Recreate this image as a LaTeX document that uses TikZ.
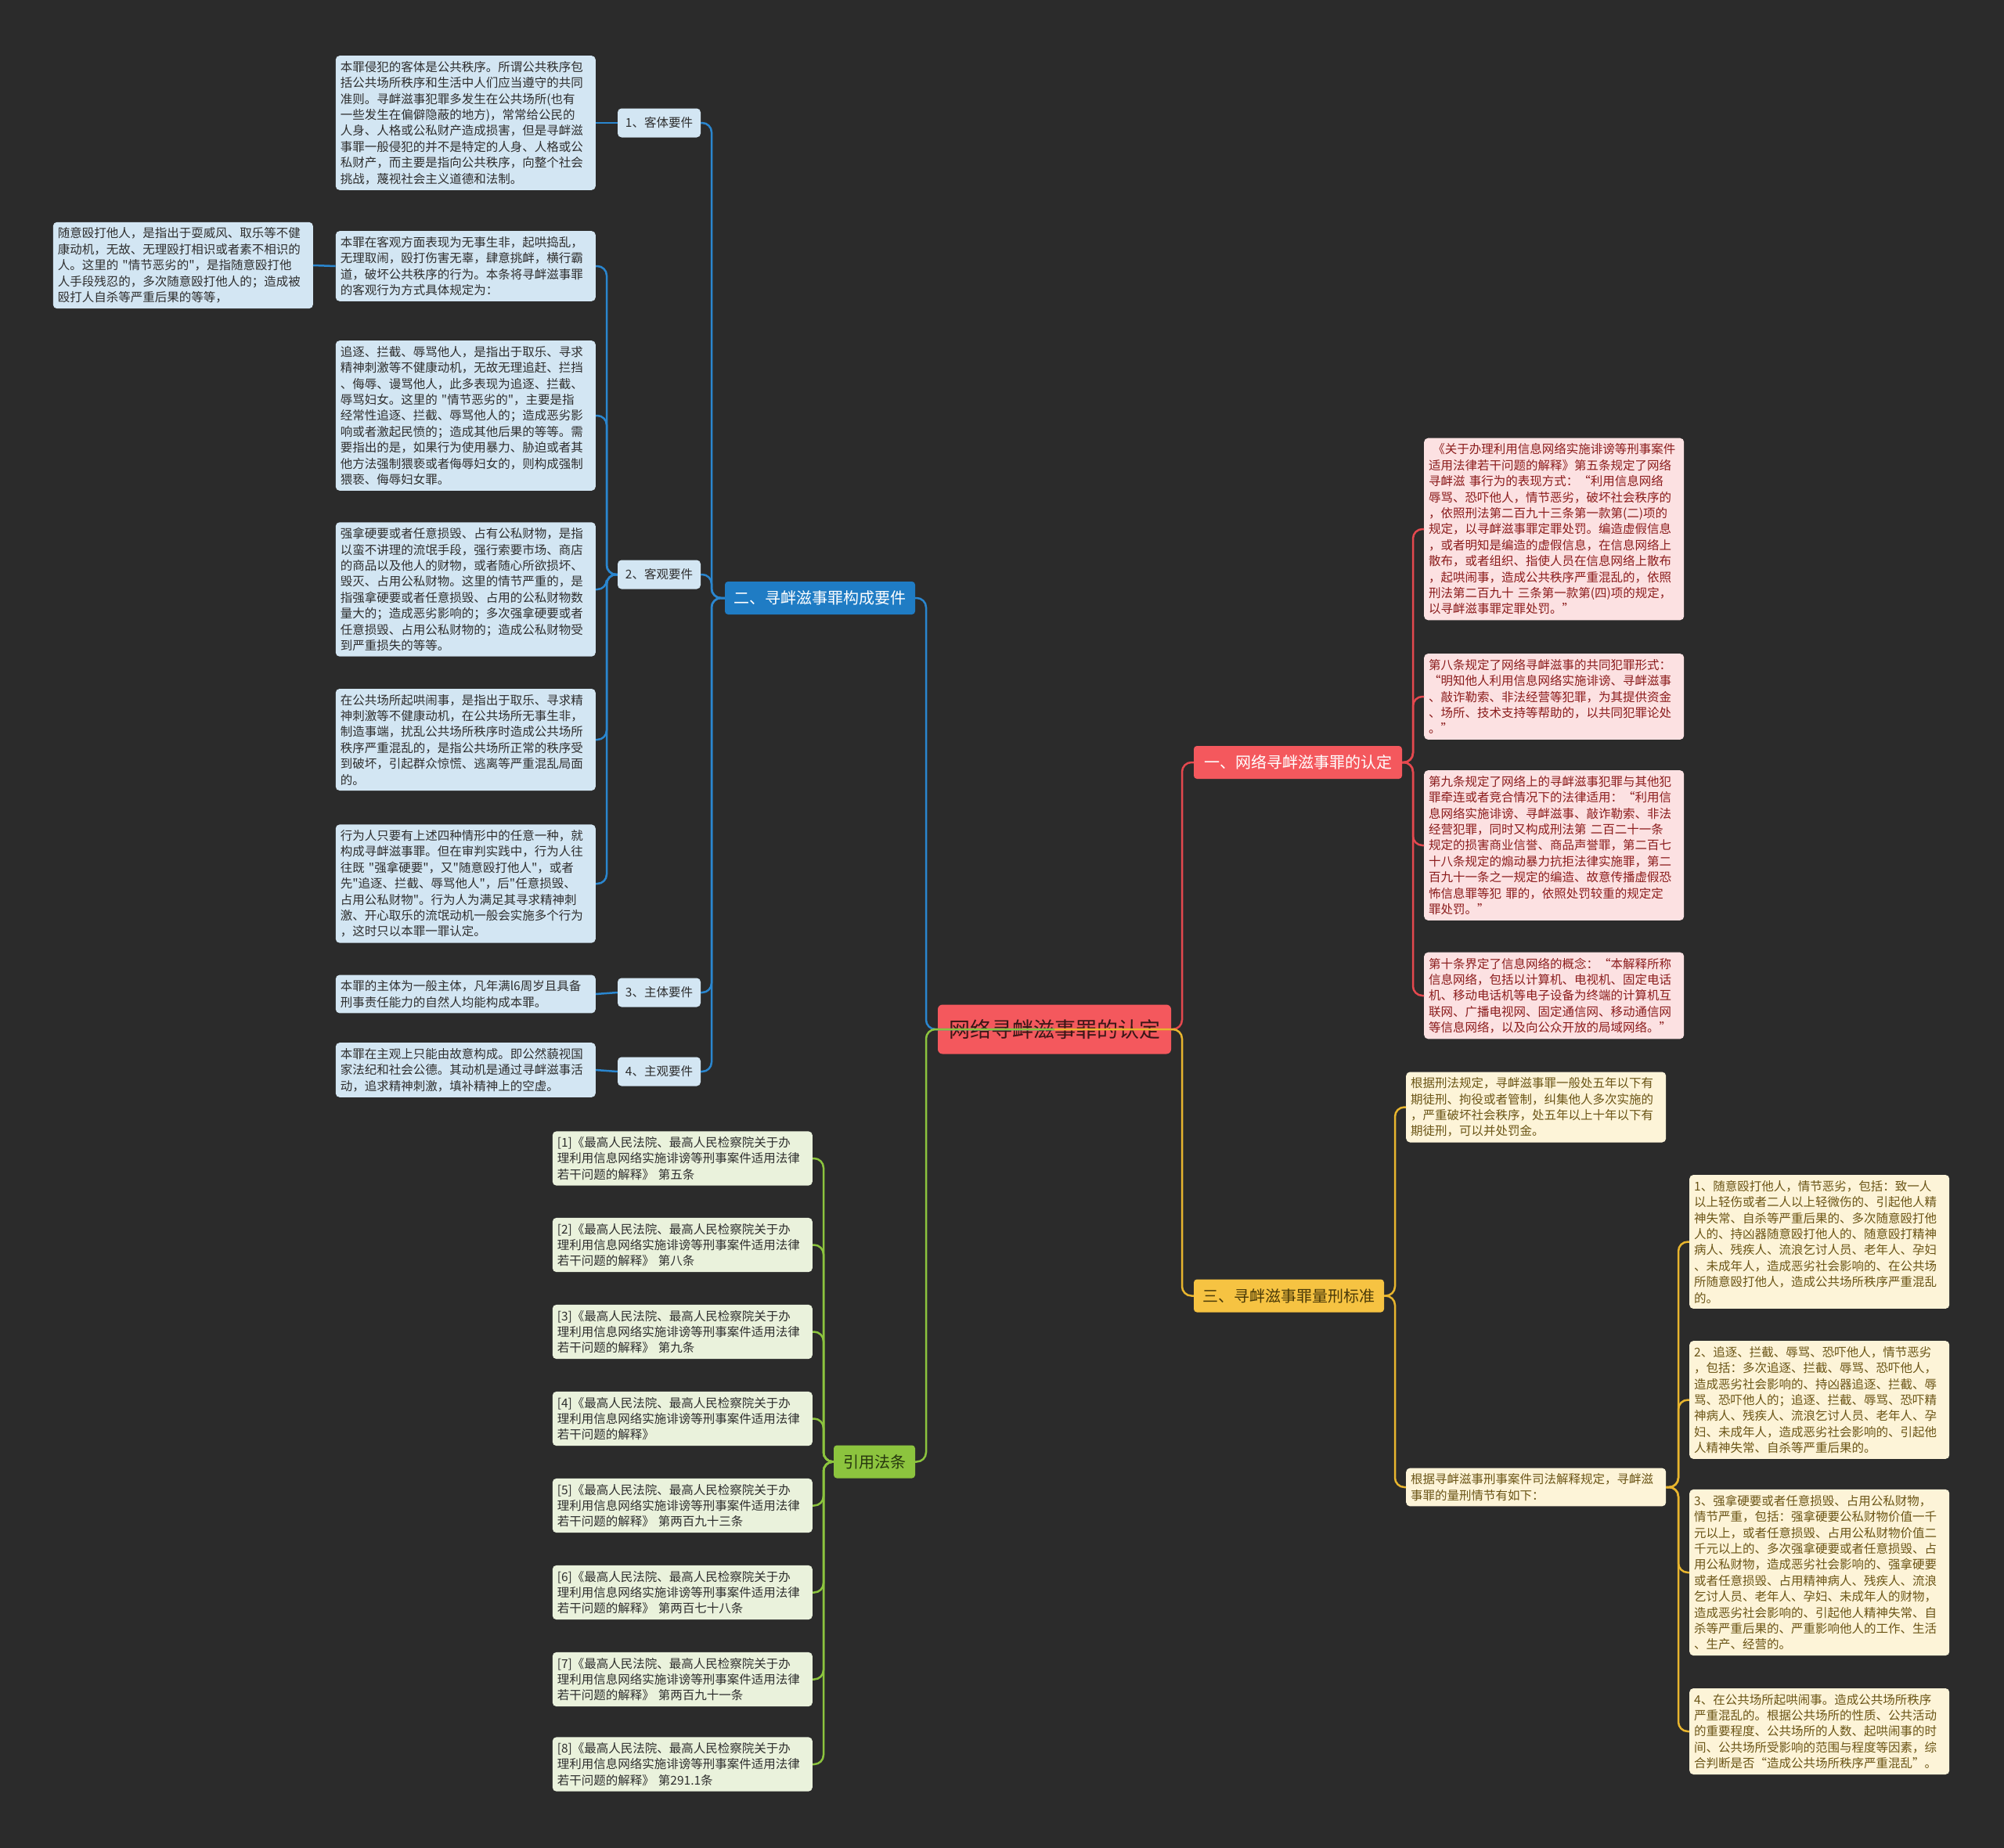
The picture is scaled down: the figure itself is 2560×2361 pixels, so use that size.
\documentclass[tikz,border=0pt]{standalone}
\usepackage{fontspec}
\newfontfamily\cjk{Noto Sans CJK SC}
\definecolor{bg}{HTML}{2B2B2B}
\definecolor{bfill}{HTML}{D3E6F3}
\definecolor{bmain}{HTML}{1F7CC4}
\definecolor{bline}{HTML}{2A86CF}
\definecolor{rfill}{HTML}{FCE1E2}
\definecolor{rmain}{HTML}{F4585D}
\definecolor{rline}{HTML}{E4484E}
\definecolor{rtext}{HTML}{8B1C1C}
\definecolor{ctext}{HTML}{3A1616}
\definecolor{yfill}{HTML}{FDF4D8}
\definecolor{ymain}{HTML}{F6C342}
\definecolor{yline}{HTML}{E8B52E}
\definecolor{ytext}{HTML}{6B5516}
\definecolor{ymtext}{HTML}{4A3A08}
\definecolor{gfill}{HTML}{EAF2DC}
\definecolor{gmain}{HTML}{8CC43E}
\definecolor{gline}{HTML}{8CC43E}
\definecolor{gmtext}{HTML}{26360E}
\definecolor{dtext}{HTML}{2E2E2E}
\begin{document}
\begin{tikzpicture}[x=1pt,y=-1pt,
  leaf/.style={rounded corners=5pt, align=left, text width=320pt, inner xsep=6pt, inner ysep=7pt,
    font=\cjk\fontsize{15.5}{20.4}\selectfont},
  bleaf/.style={leaf, fill=bfill, text=dtext},
  rleaf/.style={leaf, fill=rfill, text=rtext},
  yleaf/.style={leaf, fill=yfill, text=ytext},
  gleaf/.style={leaf, fill=gfill, text=dtext},
  klabel/.style={rounded corners=5pt, fill=bfill, text=dtext, minimum width=106pt, minimum height=37pt,
    inner sep=0pt, font=\cjk\fontsize{15.5}{18}\selectfont},
  branch/.style={rounded corners=4pt, minimum height=42pt, inner sep=0pt, font=\cjk\fontsize{20}{24}\selectfont},
  con/.style={line width=2.5pt, rounded corners=12pt},
]
\useasboundingbox (0,0) rectangle (2560,2361);
\fill[bg] (0,0) rectangle (2560,2361);

% bus coordinates
\coordinate (cL) at (1183,0);
\coordinate (cR) at (1510,0);
\coordinate (bB) at (909,0);
\coordinate (bK) at (775,0);
\coordinate (rB) at (1805,0);
\coordinate (yB) at (1782,0);
\coordinate (yB2) at (2144,0);
\coordinate (gB) at (1052,0);

% ---------- center ----------
\node[rounded corners=6pt, fill=rmain, text=ctext, minimum width=298pt, minimum height=63pt, inner sep=0pt,
  font=\cjk\fontsize{27}{30}\selectfont] (C) at (1347,1315) {网络寻衅滋事罪的认定};

% ---------- main branches ----------
\node[branch, fill=bmain, text=white, minimum width=243pt] (B2) at (1047.5,764) {二、寻衅滋事罪构成要件};
\node[branch, fill=rmain, text=white, minimum width=266pt] (B1) at (1658,974) {一、网络寻衅滋事罪的认定};
\node[branch, fill=ymain, text=ymtext, minimum width=243pt] (B3) at (1646.5,1655.5) {三、寻衅滋事罪量刑标准};
\node[branch, fill=gmain, text=gmtext, minimum width=104pt] (B4) at (1117,1867.5) {引用法条};

% ---------- blue labels ----------
\node[klabel] (K1) at (842,157) {1、客体要件};
\node[klabel] (K2) at (842,734) {2、客观要件};
\node[klabel] (K3) at (842,1268) {3、主体要件};
\node[klabel] (K4) at (842,1369) {4、主观要件};

% ---------- blue leaves ----------
\node[bleaf, anchor=east] (L1) at (761,157) {本罪侵犯的客体是公共秩序。所谓公共秩序包\\括公共场所秩序和生活中人们应当遵守的共同\\准则。寻衅滋事犯罪多发生在公共场所(也有\\一些发生在偏僻隐蔽的地方)，常常给公民的\\人身、人格或公私财产造成损害，但是寻衅滋\\事罪一般侵犯的并不是特定的人身、人格或公\\私财产，而主要是指向公共秩序，向整个社会\\挑战，蔑视社会主义道德和法制。};
\node[bleaf, anchor=east] (L2) at (761,340) {本罪在客观方面表现为无事生非，起哄捣乱，\\无理取闹，殴打伤害无辜，肆意挑衅，横行霸\\道，破坏公共秩序的行为。本条将寻衅滋事罪\\的客观行为方式具体规定为：};
\node[bleaf, anchor=east] (LL) at (400,339) {随意殴打他人，是指出于耍威风、取乐等不健\\康动机，无故、无理殴打相识或者素不相识的\\人。这里的 "情节恶劣的"，是指随意殴打他\\人手段残忍的，多次随意殴打他人的；造成被\\殴打人自杀等严重后果的等等，};
\node[bleaf, anchor=east] (L3) at (761,531) {追逐、拦截、辱骂他人，是指出于取乐、寻求\\精神刺激等不健康动机，无故无理追赶、拦挡\\、侮辱、谩骂他人，此多表现为追逐、拦截、\\辱骂妇女。这里的 "情节恶劣的"，主要是指\\经常性追逐、拦截、辱骂他人的；造成恶劣影\\响或者激起民愤的；造成其他后果的等等。需\\要指出的是，如果行为使用暴力、胁迫或者其\\他方法强制猥亵或者侮辱妇女的，则构成强制\\猥亵、侮辱妇女罪。};
\node[bleaf, anchor=east] (L4) at (761,753) {强拿硬要或者任意损毁、占有公私财物，是指\\以蛮不讲理的流氓手段，强行索要市场、商店\\的商品以及他人的财物，或者随心所欲损坏、\\毁灭、占用公私财物。这里的情节严重的，是\\指强拿硬要或者任意损毁、占用的公私财物数\\量大的；造成恶劣影响的；多次强拿硬要或者\\任意损毁、占用公私财物的；造成公私财物受\\到严重损失的等等。};
\node[bleaf, anchor=east] (L5) at (761,945) {在公共场所起哄闹事，是指出于取乐、寻求精\\神刺激等不健康动机，在公共场所无事生非，\\制造事端，扰乱公共场所秩序时造成公共场所\\秩序严重混乱的，是指公共场所正常的秩序受\\到破坏，引起群众惊慌、逃离等严重混乱局面\\的。};
\node[bleaf, anchor=east] (L6) at (761,1129) {行为人只要有上述四种情形中的任意一种，就\\构成寻衅滋事罪。但在审判实践中，行为人往\\往既 "强拿硬要"，又"随意殴打他人"，或者\\先"追逐、拦截、辱骂他人"，后"任意损毁、\\占用公私财物"。行为人为满足其寻求精神刺\\激、开心取乐的流氓动机一般会实施多个行为\\，这时只以本罪一罪认定。};
\node[bleaf, anchor=east] (L7) at (761,1270) {本罪的主体为一般主体，凡年满l6周岁且具备\\刑事责任能力的自然人均能构成本罪。};
\node[bleaf, anchor=east] (L8) at (761,1367) {本罪在主观上只能由故意构成。即公然藐视国\\家法纪和社会公德。其动机是通过寻衅滋事活\\动，追求精神刺激，填补精神上的空虚。};

% ---------- red leaves ----------
\node[rleaf, anchor=west] (R1) at (1819,676) {\ 《关于办理利用信息网络实施诽谤等刑事案件\\适用法律若干问题的解释》第五条规定了网络\\寻衅滋 事行为的表现方式：“利用信息网络\\辱骂、恐吓他人，情节恶劣，破坏社会秩序的\\，依照刑法第二百九十三条第一款第(二)项的\\规定，以寻衅滋事罪定罪处罚。编造虚假信息\\，或者明知是编造的虚假信息，在信息网络上\\散布，或者组织、指使人员在信息网络上散布\\，起哄闹事，造成公共秩序严重混乱的，依照\\刑法第二百九十~三条第一款第(四)项的规定，\\以寻衅滋事罪定罪处罚。”};
\node[rleaf, anchor=west] (R2) at (1819,890) {第八条规定了网络寻衅滋事的共同犯罪形式：\\“明知他人利用信息网络实施诽谤、寻衅滋事\\、敲诈勒索、非法经营等犯罪，为其提供资金\\、场所、技术支持等帮助的，以共同犯罪论处\\。”};
\node[rleaf, anchor=west] (R3) at (1819,1080) {第九条规定了网络上的寻衅滋事犯罪与其他犯\\罪牵连或者竞合情况下的法律适用：“利用信\\息网络实施诽谤、寻衅滋事、敲诈勒索、非法\\经营犯罪，同时又构成刑法第~二百二十一条\\规定的损害商业信誉、商品声誉罪，第二百七\\十八条规定的煽动暴力抗拒法律实施罪，第二\\百九十一条之一规定的编造、故意传播虚假恐\\怖信息罪等犯~罪的，依照处罚较重的规定定\\罪处罚。”};
\node[rleaf, anchor=west] (R4) at (1819,1272) {第十条界定了信息网络的概念：“本解释所称\\信息网络，包括以计算机、电视机、固定电话\\机、移动电话机等电子设备为终端的计算机互\\联网、广播电视网、固定通信网、移动通信网\\等信息网络，以及向公众开放的局域网络。”};

% ---------- yellow leaves ----------
\node[yleaf, anchor=west] (Y0) at (1796,1414.5) {根据刑法规定，寻衅滋事罪一般处五年以下有\\期徒刑、拘役或者管制，纠集他人多次实施的\\，严重破坏社会秩序，处五年以上十年以下有\\期徒刑，可以并处罚金。};
\node[yleaf, anchor=west] (Y1) at (1796,1900) {根据寻衅滋事刑事案件司法解释规定，寻衅滋\\事罪的量刑情节有如下：};
\node[yleaf, anchor=west] (Ya) at (2158,1586.5) {1、随意殴打他人，情节恶劣，包括：致一人\\以上轻伤或者二人以上轻微伤的、引起他人精\\神失常、自杀等严重后果的、多次随意殴打他\\人的、持凶器随意殴打他人的、随意殴打精神\\病人、残疾人、流浪乞讨人员、老年人、孕妇\\、未成年人，造成恶劣社会影响的、在公共场\\所随意殴打他人，造成公共场所秩序严重混乱\\的。};
\node[yleaf, anchor=west] (Yb) at (2158,1788.5) {2、追逐、拦截、辱骂、恐吓他人，情节恶劣\\，包括：多次追逐、拦截、辱骂、恐吓他人，\\造成恶劣社会影响的、持凶器追逐、拦截、辱\\骂、恐吓他人的；追逐、拦截、辱骂、恐吓精\\神病人、残疾人、流浪乞讨人员、老年人、孕\\妇、未成年人，造成恶劣社会影响的、引起他\\人精神失常、自杀等严重后果的。};
\node[yleaf, anchor=west] (Yc) at (2158,2009) {3、强拿硬要或者任意损毁、占用公私财物，\\情节严重，包括：强拿硬要公私财物价值一千\\元以上，或者任意损毁、占用公私财物价值二\\千元以上的、多次强拿硬要或者任意损毁、占\\用公私财物，造成恶劣社会影响的、强拿硬要\\或者任意损毁、占用精神病人、残疾人、流浪\\乞讨人员、老年人、孕妇、未成年人的财物，\\造成恶劣社会影响的、引起他人精神失常、自\\杀等严重后果的、严重影响他人的工作、生活\\、生产、经营的。};
\node[yleaf, anchor=west] (Yd) at (2158,2212) {4、在公共场所起哄闹事。造成公共场所秩序\\严重混乱的。根据公共场所的性质、公共活动\\的重要程度、公共场所的人数、起哄闹事的时\\间、公共场所受影响的范围与程度等因素，综\\合判断是否“造成公共场所秩序严重混乱”。};

% ---------- green leaves ----------
\node[gleaf, anchor=east] (G1) at (1038,1480) {[1]《最高人民法院、最高人民检察院关于办\\理利用信息网络实施诽谤等刑事案件适用法律\\若干问题的解释》 第五条};
\node[gleaf, anchor=east] (G2) at (1038,1590.5) {[2]《最高人民法院、最高人民检察院关于办\\理利用信息网络实施诽谤等刑事案件适用法律\\若干问题的解释》 第八条};
\node[gleaf, anchor=east] (G3) at (1038,1701.5) {[3]《最高人民法院、最高人民检察院关于办\\理利用信息网络实施诽谤等刑事案件适用法律\\若干问题的解释》 第九条};
\node[gleaf, anchor=east] (G4) at (1038,1812.5) {[4]《最高人民法院、最高人民检察院关于办\\理利用信息网络实施诽谤等刑事案件适用法律\\若干问题的解释》};
\node[gleaf, anchor=east] (G5) at (1038,1923.5) {[5]《最高人民法院、最高人民检察院关于办\\理利用信息网络实施诽谤等刑事案件适用法律\\若干问题的解释》 第两百九十三条};
\node[gleaf, anchor=east] (G6) at (1038,2034.5) {[6]《最高人民法院、最高人民检察院关于办\\理利用信息网络实施诽谤等刑事案件适用法律\\若干问题的解释》 第两百七十八条};
\node[gleaf, anchor=east] (G7) at (1038,2145.5) {[7]《最高人民法院、最高人民检察院关于办\\理利用信息网络实施诽谤等刑事案件适用法律\\若干问题的解释》 第两百九十一条};
\node[gleaf, anchor=east] (G8) at (1038,2254) {[8]《最高人民法院、最高人民检察院关于办\\理利用信息网络实施诽谤等刑事案件适用法律\\若干问题的解释》 第291.1条};

% ---------- connectors ----------
% blue
\draw[con, bline] (B2.west) -- (bB |- B2.west) |- (K1.east);
\draw[con, bline] (B2.west) -- (bB |- B2.west) |- (K2.east);
\draw[con, bline] (B2.west) -- (bB |- B2.west) |- (K3.east);
\draw[con, bline] (B2.west) -- (bB |- B2.west) |- (K4.east);
\draw[con, bline] (K1.west) -- (L1.east);
\draw[con, bline] (K3.west) -- (L7.east);
\draw[con, bline] (K4.west) -- (L8.east);
\draw[con, bline] (K2.west) -- (bK |- K2.west) |- (L2.east);
\draw[con, bline] (K2.west) -- (bK |- K2.west) |- (L3.east);
\draw[con, bline] (K2.west) -- (bK |- K2.west) |- (L4.east);
\draw[con, bline] (K2.west) -- (bK |- K2.west) |- (L5.east);
\draw[con, bline] (K2.west) -- (bK |- K2.west) |- (L6.east);
\draw[con, bline] (L2.west) -- (LL.east);
% red
\draw[con, rline] (B1.east) -- (rB |- B1.east) |- (R1.west);
\draw[con, rline] (B1.east) -- (rB |- B1.east) |- (R2.west);
\draw[con, rline] (B1.east) -- (rB |- B1.east) |- (R3.west);
\draw[con, rline] (B1.east) -- (rB |- B1.east) |- (R4.west);
% yellow
\draw[con, yline] (B3.east) -- (yB |- B3.east) |- (Y0.west);
\draw[con, yline] (B3.east) -- (yB |- B3.east) |- (Y1.west);
\draw[con, yline] (Y1.east) -- (yB2 |- Y1.east) |- (Ya.west);
\draw[con, yline] (Y1.east) -- (yB2 |- Y1.east) |- (Yb.west);
\draw[con, yline] (Y1.east) -- (yB2 |- Y1.east) |- (Yc.west);
\draw[con, yline] (Y1.east) -- (yB2 |- Y1.east) |- (Yd.west);
% green
\draw[con, gline] (B4.west) -- (gB |- B4.west) |- (G1.east);
\draw[con, gline] (B4.west) -- (gB |- B4.west) |- (G2.east);
\draw[con, gline] (B4.west) -- (gB |- B4.west) |- (G3.east);
\draw[con, gline] (B4.west) -- (gB |- B4.west) |- (G4.east);
\draw[con, gline] (B4.west) -- (gB |- B4.west) |- (G5.east);
\draw[con, gline] (B4.west) -- (gB |- B4.west) |- (G6.east);
\draw[con, gline] (B4.west) -- (gB |- B4.west) |- (G7.east);
\draw[con, gline] (B4.west) -- (gB |- B4.west) |- (G8.east);
% center
\draw[con, bline] (C.center) -- (cL |- C.center) |- (B2.east);
\draw[con, rline] (C.center) -- (cR |- C.center) |- (B1.west);
\draw[con, gline] (C.center) -- (cL |- C.center) |- (B4.east);
\draw[con, yline] (C.center) -- (cR |- C.center) |- (B3.west);
\end{tikzpicture}
\end{document}
